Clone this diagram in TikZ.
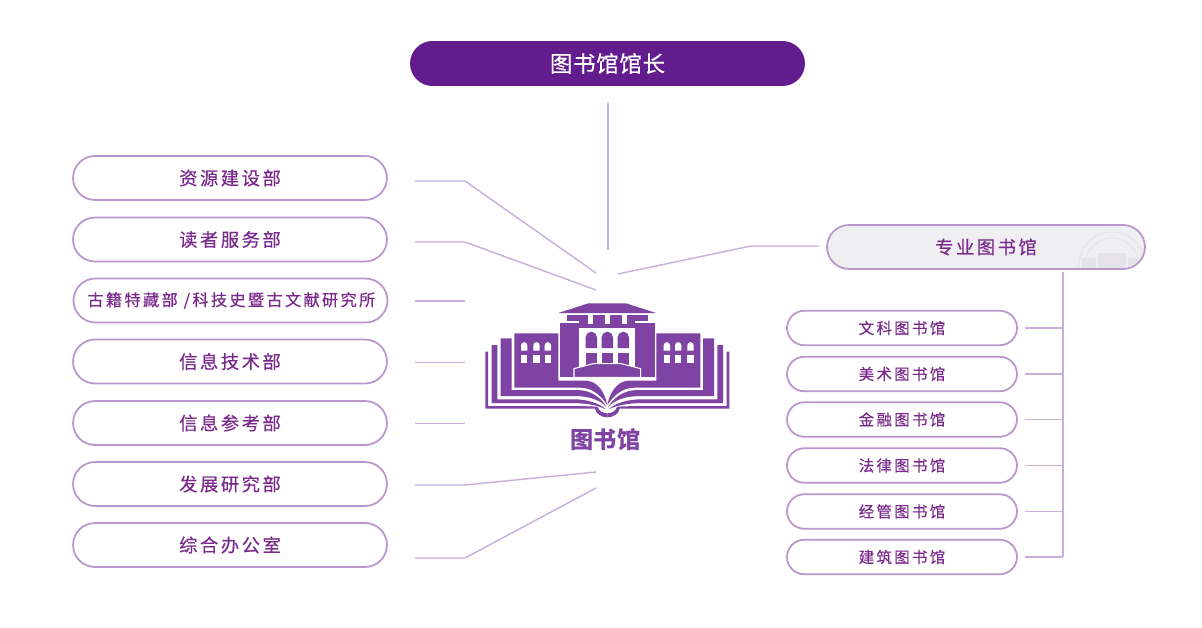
\documentclass[tikz,border=0pt]{standalone}
\usepackage{fontspec}
\setmainfont{Noto Sans CJK SC}
\newfontfamily\deptfont[LetterSpace=14,FakeBold=0.45]{Noto Sans CJK SC}
\newfontfamily\subfont[LetterSpace=15,FakeBold=0.4]{Noto Sans CJK SC}
\newfontfamily\headfont[LetterSpace=3,FakeBold=0.35]{Noto Sans CJK SC}
\usepackage{tikz}
\definecolor{DirectorColor}{RGB}{98,28,142}
\definecolor{LogoColor}{RGB}{127,67,163}
\definecolor{TextColor}{RGB}{122,42,140}
\definecolor{BorderColor}{RGB}{186,150,204}
\definecolor{LinkColor}{RGB}{198,176,218}
\definecolor{PanelColor}{RGB}{239,238,240}
\definecolor{MarkColor}{RGB}{230,226,234}
\tikzstyle{dept} = [draw=BorderColor, line width=1pt, fill=white, rounded corners=.44cm, minimum width=6.28cm, minimum height=.88cm, inner sep=0pt, text=TextColor, font=\deptfont\fontsize{10.4}{12}\selectfont]
\tikzstyle{branch} = [draw=BorderColor, line width=1pt, fill=white, rounded corners=.345cm, minimum width=4.6cm, minimum height=.69cm, inner sep=0pt, text=TextColor, font=\subfont\fontsize{8.8}{11}\selectfont]
\tikzstyle{link} = [LinkColor, line width=.8pt]
% one half of the open book and its wing, the other half is its mirror image
\newcommand{\bookhalf}{
    % pages
    \fill[LogoColor] (46,185) -- (54,185) -- (54,348) -- (330,348) -- (382,350) .. controls (388,365) and (400,370) .. (412,370) -- (412,382) .. controls (395,382) and (378,372) .. (375,356) -- (46,356) -- cycle;
    \fill[LogoColor] (65,165) -- (82,165) -- (82,328) -- (310,328) .. controls (350,328) and (385,338) .. (408,358) .. controls (385,346) and (350,339) .. (300,339) -- (65,339) -- cycle;
    \fill[LogoColor] (92,145) -- (125,145) -- (125,300) -- (320,300) .. controls (365,300) and (395,325) .. (410,352) .. controls (390,330) and (360,318) .. (310,318) -- (92,318) -- cycle;
    % wing
    \fill[LogoColor] (133,130) -- (265,130) -- (265,272) -- (350,272) .. controls (385,275) and (405,310) .. (412,345) .. controls (395,320) and (370,293) .. (330,293) -- (133,293) -- cycle;
    \fill[white] (153,182) -- (153,166) arc (180:360:9.5) -- (172,182) -- cycle;
    \fill[white] (190,182) -- (190,166) arc (180:360:9.5) -- (209,182) -- cycle;
    \fill[white] (224,182) -- (224,166) arc (180:360:9.5) -- (243,182) -- cycle;
    \fill[white] (153,196) rectangle (172,220);
    \fill[white] (190,196) rectangle (209,220);
    \fill[white] (224,196) rectangle (243,220);
    % tower
    \fill[LogoColor] (270,99) rectangle (328,262);
}
\begin{document}
\begin{tikzpicture}[x=.02cm, y=-.02cm]
    \useasboundingbox[fill=white] (0,0) rectangle (1202,628);

    % Director
    \node[fill=DirectorColor, rounded corners=.45cm, minimum width=7.9cm, minimum height=.9cm, inner sep=0pt, text=white, font=\headfont\fontsize{12.8}{15}\selectfont] (director) at (607.5,63.5) {\raisebox{-.6pt}{图书馆馆长}};

    % Departments
    \node[dept] (resource) at (230,178) {资源建设部};
    \node[dept] (reader) at (230,239.5) {读者服务部};
    \node[dept, font=\deptfont\fontsize{9.25}{11}\selectfont] (ancient) at (230.5,300.5) {\hspace{1pt}古籍特藏部 /科技史暨古文献研究所};
    \node[dept] (info) at (230,361.5) {信息技术部};
    \node[dept] (reference) at (230,423) {信息参考部};
    \node[dept] (develop) at (230,484) {发展研究部};
    \node[dept] (office) at (230,545) {综合办公室};

    % Special libraries
    \node[dept, minimum width=6.36cm, fill=PanelColor] (special) at (986,247) {专业图书馆\hspace{3.4pt}};
    \begin{scope}
        \clip[rounded corners=.44cm] (828,226) rectangle (1144,268);
        \draw[MarkColor, line width=.5pt] (1112,265) circle (33);
        \draw[MarkColor, line width=.5pt] (1112,265) circle (27);
        \fill[MarkColor] (1098,253) rectangle (1126,268);
        \fill[MarkColor] (1082,258) rectangle (1096,268);
        \fill[MarkColor] (1128,258) rectangle (1142,268);
    \end{scope}
    \node[branch] (arts) at (902,328) {文科图书馆\hspace{2pt}};
    \node[branch] (fine) at (902,374) {美术图书馆\hspace{2pt}};
    \node[branch] (finance) at (902,419.5) {金融图书馆\hspace{2pt}};
    \node[branch] (law) at (902,465.5) {法律图书馆\hspace{2pt}};
    \node[branch] (business) at (902,511.5) {经管图书馆\hspace{2pt}};
    \node[branch] (building) at (902,557) {建筑图书馆\hspace{2pt}};

    % Logo
    \begin{scope}[shift={(470,290)}, scale=1/3]
        \bookhalf
        \begin{scope}[shift={(824,0)}, xscale=-1]
            \bookhalf
        \end{scope}
        \fill[LogoColor] (265,69) -- (355,40) -- (468,40) -- (558,69) -- cycle;
        \fill[LogoColor] (290,76) rectangle (534,94);
        \fill[LogoColor] (328,94) rectangle (496,114);
        \fill[white] (355,76) rectangle (370,102);
        \fill[white] (405,76) rectangle (420,102);
        \fill[white] (455,76) rectangle (470,102);
        % windows
        \fill[LogoColor] (347,174) -- (347,142) arc (180:360:17) -- (381,174) -- cycle;
        \fill[LogoColor] (395,174) -- (395,142) arc (180:360:17) -- (429,174) -- cycle;
        \fill[LogoColor] (443,174) -- (443,142) arc (180:360:17) -- (477,174) -- cycle;
        \fill[LogoColor] (347,189) rectangle (381,228);
        \fill[LogoColor] (395,189) rectangle (429,222);
        \fill[LogoColor] (443,189) rectangle (477,228);
        % steps
        \fill[LogoColor, draw=white, line width=.6pt] (312,236) -- (370,221) -- (454,221) -- (512,236) -- (512,262) -- (312,262) -- cycle;
    \end{scope}
    \node[text=LogoColor, font=\fontsize{13.2}{15}\selectfont\bfseries] (hub) at (605.5,440) {图书馆};

    % Links
    \coordinate (resourceBend) at (465,181);
    \coordinate (readerBend) at (465,242);
    \coordinate (ancientEnd) at (465,301);
    \coordinate (infoEnd) at (465,362.5);
    \coordinate (referenceEnd) at (465,423.5);
    \coordinate (developBend) at (465,485);
    \coordinate (officeBend) at (465,558);
    \coordinate (hubA) at (596,273);
    \coordinate (hubB) at (596,290);
    \coordinate (hubC) at (596,472);
    \coordinate (hubD) at (596,488);
    \coordinate (hubE) at (608,250);
    \coordinate (hubF) at (618,274);
    \coordinate (specialBend) at (751,246);
    \coordinate (trunkTop) at (1063,272);
    \coordinate (trunkBottom) at (1063,557);

    \draw[link, shorten <=.54cm] (resource.east |- resourceBend) -- (resourceBend) -- (hubA);
    \draw[link, shorten <=.54cm] (reader.east |- readerBend) -- (readerBend) -- (hubB);
    \draw[link, shorten <=.54cm] (ancient.east |- ancientEnd) -- (ancientEnd);
    \draw[link, shorten <=.54cm] (info.east |- infoEnd) -- (infoEnd);
    \draw[link, shorten <=.54cm] (reference.east |- referenceEnd) -- (referenceEnd);
    \draw[link, shorten <=.54cm] (develop.east |- developBend) -- (developBend) -- (hubC);
    \draw[link, shorten <=.54cm] (office.east |- officeBend) -- (officeBend) -- (hubD);
    \draw[link, shorten <=.34cm] (director.south -| hubE) -- (hubE);
    \draw[link, shorten >=.14cm] (hubF) -- (specialBend) -- (specialBend -| special.west);

    \draw[link] (trunkTop) -- (trunkBottom);
    \draw[link, shorten <=.14cm] (arts.east) -- (arts.east -| trunkTop);
    \draw[link, shorten <=.14cm] (fine.east) -- (fine.east -| trunkTop);
    \draw[link, shorten <=.14cm] (finance.east) -- (finance.east -| trunkTop);
    \draw[link, shorten <=.14cm] (law.east) -- (law.east -| trunkTop);
    \draw[link, shorten <=.14cm] (business.east) -- (business.east -| trunkTop);
    \draw[link, shorten <=.14cm] (building.east) -- (building.east -| trunkTop);
\end{tikzpicture}
\end{document}
